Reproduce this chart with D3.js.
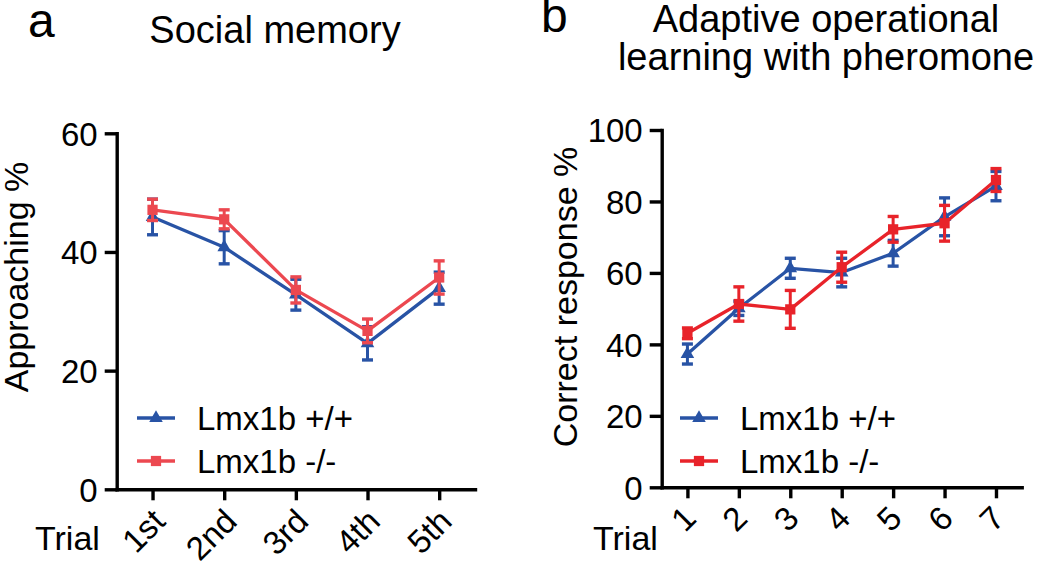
<!DOCTYPE html>
<html>
<head>
<meta charset="utf-8">
<script src="https://cdn.jsdelivr.net/npm/d3@7"></script>
<style>
  html, body { margin: 0; padding: 0; background: #fff; }
  svg { display: block; font-family: "Liberation Sans", Arial, sans-serif; }
</style>
</head>
<body>
<svg id="chart" width="1050" height="561"></svg>
<script>
// ---------------- data ----------------
const seriesNames = ["Lmx1b +/+", "Lmx1b -/-"];

// Panel a: Social memory
const trialsA = ["1st", "2nd", "3rd", "4th", "5th"];
const wtA = [45.9, 40.8, 32.8, 24.6, 33.9];
const wtAErr = [3.0, 2.8, 2.6, 2.8, 2.7];
const koA = [47.1, 45.5, 33.6, 26.7, 35.7];
const koAErr = [1.8, 1.6, 2.2, 2.0, 2.8];
const yTicksA = [0, 20, 40, 60];

// Panel b: Adaptive operational learning with pheromone
const trialsB = ["1", "2", "3", "4", "5", "6", "7"];
const wtB = [37.3, 50.1, 61.3, 60.1, 65.5, 75.7, 84.3];
const wtBErr = [2.8, 2.0, 2.8, 4.0, 3.6, 5.3, 4.1];
const koB = [43.1, 51.3, 49.8, 61.6, 72.2, 73.9, 86.0];
const koBErr = [1.5, 4.8, 5.3, 4.2, 3.6, 5.0, 3.2];
const yTicksB = [0, 20, 40, 60, 80, 100];

// ---------------- drawing ----------------
const svg = d3.select("#chart");
const FONT = "Liberation Sans, Arial, sans-serif";
const BLUE = "#2853a5";

function panel(cfg) {
  const g = svg.append("g");
  const x = d3.scalePoint().domain(cfg.trials).range([cfg.x0, cfg.x1]).padding(0.5);
  const y = d3.scaleLinear().domain([0, cfg.yMax]).range([cfg.yBottom, cfg.yTop]);

  // Y axis
  const ya = g.append("g")
    .attr("transform", `translate(${cfg.x0},0)`)
    .call(d3.axisLeft(y).tickValues(cfg.yTicks).tickSize(12).tickSizeOuter(0).tickPadding(7));
  // X axis
  const xa = g.append("g")
    .attr("transform", `translate(0,${cfg.yBottom})`)
    .call(d3.axisBottom(x).tickSize(11).tickSizeOuter(0));

  [ya, xa].forEach(a => {
    a.selectAll("path.domain").attr("stroke", "#000").attr("stroke-width", 3.4).attr("stroke-linecap", "square");
    a.selectAll(".tick line").attr("stroke", "#000").attr("stroke-width", 3.4);
    a.selectAll("text").attr("fill", "#000").style("font-family", FONT);
  });
  ya.selectAll("text").style("font-size", "33px").attr("dy", "0.36em");
  xa.selectAll("text")
    .style("font-size", "33px")
    .attr("x", 0).attr("y", 0).attr("dy", 0)
    .attr("text-anchor", "end")
    .attr("transform", `translate(${cfg.xlDx},${cfg.xlDy}) rotate(-45)`);

  // "Trial"
  g.append("text").attr("x", cfg.trialX).attr("y", 550)
    .style("font-size", "34px").style("font-family", FONT).attr("text-anchor", "start")
    .text("Trial");

  // Y title
  g.append("text")
    .attr("transform", `translate(${cfg.yTitleX},${cfg.yTitleY}) rotate(-90)`)
    .attr("text-anchor", "middle")
    .style("font-size", "34px").style("font-family", FONT)
    .text(cfg.yTitle);

  // panel letter
  g.append("text").attr("x", cfg.letterX).attr("y", cfg.letterY)
    .style("font-size", "48px").style("font-family", FONT).text(cfg.letter);

  // title lines
  cfg.title.forEach((t, i) => {
    g.append("text").attr("x", cfg.titleX).attr("y", cfg.titleY + i * 38)
      .attr("text-anchor", "middle")
      .style("font-size", "38px").style("font-family", FONT).text(t);
  });

  const series = [
    { name: seriesNames[0], vals: cfg.wt, err: cfg.wtErr, color: BLUE, sym: d3.symbolTriangle, size: 80 },
    { name: seriesNames[1], vals: cfg.ko, err: cfg.koErr, color: cfg.red, sym: d3.symbolSquare, size: 105 }
  ];

  series.forEach(s => {
    const sg = g.append("g");
    const pts = cfg.trials.map((t, i) => ({ t, v: s.vals[i], e: s.err[i] }));
    sg.append("path").datum(pts)
      .attr("fill", "none").attr("stroke", s.color).attr("stroke-width", 3.3)
      .attr("stroke-linejoin", "round")
      .attr("d", d3.line().x(d => x(d.t)).y(d => y(d.v)));
    const eb = sg.selectAll(".eb").data(pts).enter().append("g")
      .attr("stroke", s.color).attr("stroke-width", 3);
    eb.append("line").attr("x1", d => x(d.t)).attr("x2", d => x(d.t))
      .attr("y1", d => y(d.v - d.e)).attr("y2", d => y(d.v + d.e));
    [-1, 1].forEach(k => {
      eb.append("line").attr("x1", d => x(d.t) - 5.5).attr("x2", d => x(d.t) + 5.5)
        .attr("y1", d => y(d.v + k * d.e)).attr("y2", d => y(d.v + k * d.e))
        .attr("stroke-width", 3.4);
    });
    sg.selectAll(".mk").data(pts).enter().append("path")
      .attr("transform", d => `translate(${x(d.t)},${y(d.v)})`)
      .attr("d", d3.symbol().type(s.sym).size(s.size))
      .attr("fill", s.color);
  });

  // legend
  series.forEach((s, i) => {
    const ly = cfg.legY + i * 43;
    const lg = g.append("g");
    lg.append("line").attr("x1", cfg.legX).attr("x2", cfg.legX + 38).attr("y1", ly).attr("y2", ly)
      .attr("stroke", s.color).attr("stroke-width", 3.3);
    lg.append("path").attr("transform", `translate(${cfg.legX + 19},${ly})`)
      .attr("d", d3.symbol().type(s.sym).size(s.size)).attr("fill", s.color);
    lg.append("text").attr("x", cfg.legX + 60).attr("y", ly).attr("dy", "0.36em")
      .style("font-size", "33px").style("font-family", FONT).text(s.name);
  });
}

panel({
  trials: trialsA, wt: wtA, wtErr: wtAErr, ko: koA, koErr: koAErr,
  yTicks: yTicksA, yMax: 60,
  x0: 116.7, x1: 475, yTop: 133.3, yBottom: 489.3,
  xlDx: 14, xlDy: 34, trialX: 35,
  yTitle: "Approaching %", yTitleX: 28, yTitleY: 277,
  letter: "a", letterX: 28, letterY: 37,
  title: ["Social memory"], titleX: 275, titleY: 43,
  red: "#ec4850", legX: 137, legY: 418
});

panel({
  trials: trialsB, wt: wtB, wtErr: wtBErr, ko: koB, koErr: koBErr,
  yTicks: yTicksB, yMax: 100,
  x0: 661.7, x1: 1021.7, yTop: 130, yBottom: 487.3,
  xlDx: 10, xlDy: 33, trialX: 593,
  yTitle: "Correct response %", yTitleX: 577, yTitleY: 297,
  letter: "b", letterX: 541, letterY: 32,
  title: ["Adaptive operational", "learning with pheromone"], titleX: 826, titleY: 32,
  red: "#e8232a", legX: 680, legY: 418
});
</script>
</body>
</html>
